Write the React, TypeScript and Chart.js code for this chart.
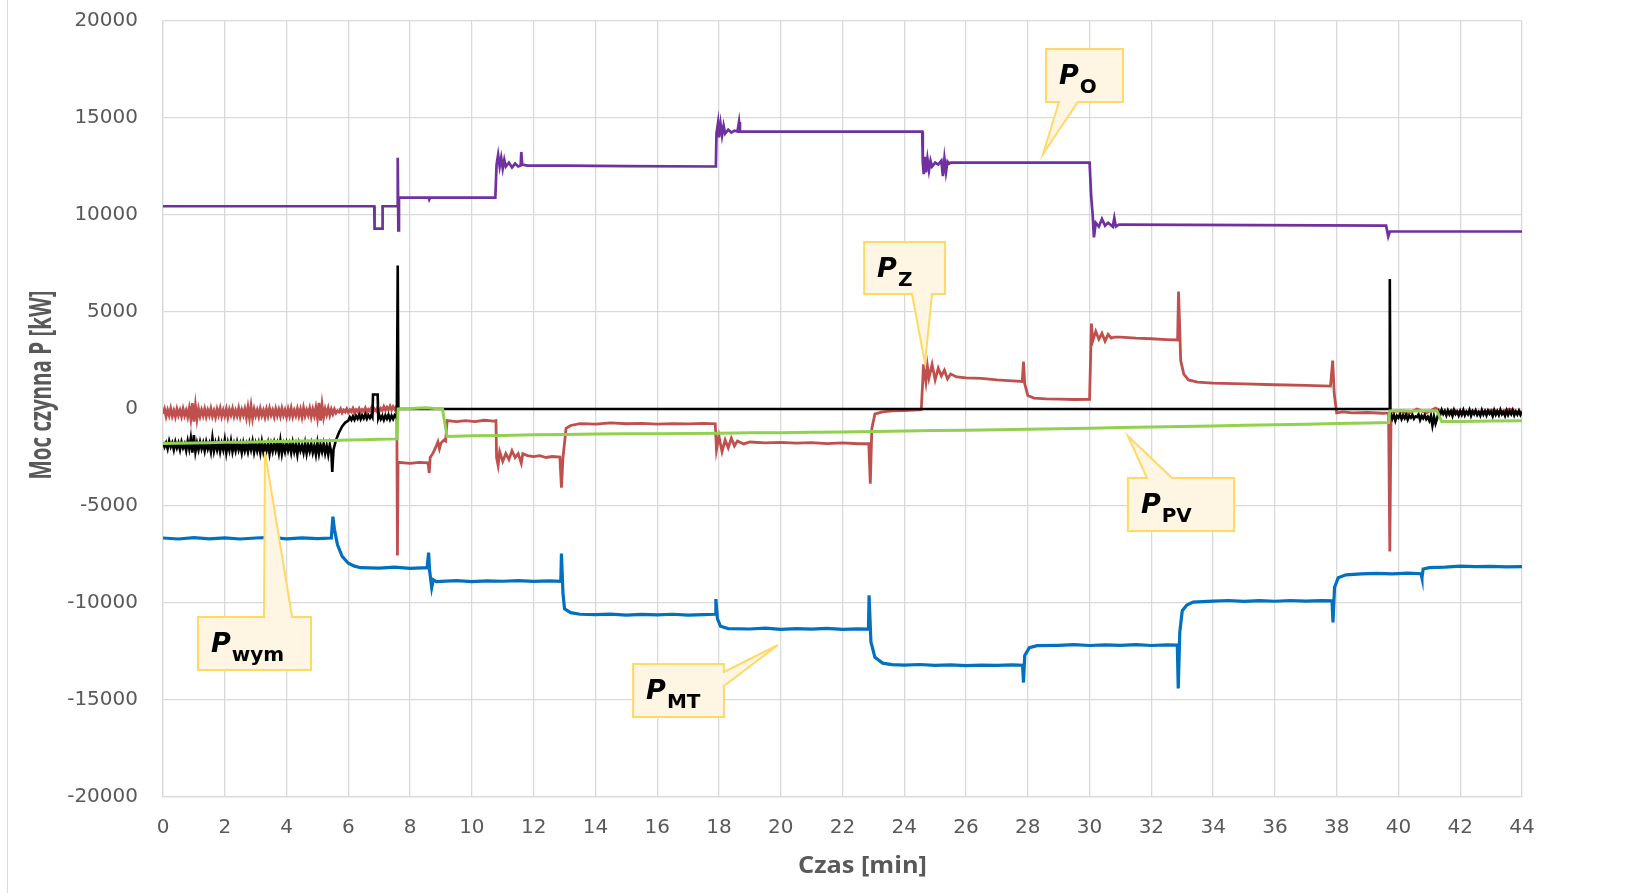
import { useEffect, useRef } from 'react';
import { Chart, registerables } from 'chart.js';

Chart.register(...registerables);

type Pt = [number, number];

// Time axis ticks [min] and power axis ticks [kW]
const timeTicks = [0, 2, 4, 6, 8, 10, 12, 14, 16, 18, 20, 22, 24, 26, 28, 30, 32, 34, 36, 38, 40, 42, 44];
const powerTicks = [-20000, -15000, -10000, -5000, 0, 5000, 10000, 15000, 20000];

// P_O – odbiory (load power) [min, kW]
const pO: Pt[] = [
  [0, 10450], [6.84, 10450], [6.85, 9300], [7.1, 9300], [7.11, 10450], [7.58, 10450], [7.6, 12950], [7.62, 9200],
  [7.64, 10900], [8.6, 10900], [8.62, 10800], [8.65, 10900], [10.76, 10900], [10.8, 12600], [10.85, 13100],
  [10.9, 12500], [10.95, 12950], [11.0, 12400], [11.05, 12850], [11.1, 12500], [11.2, 12700], [11.3, 12450],
  [11.4, 12650], [11.5, 12500], [11.58, 12550], [11.6, 13250], [11.63, 12600], [11.8, 12550], [13, 12550],
  [15, 12520], [17.9, 12500], [17.92, 14200], [17.97, 14750], [18.0, 14000], [18.05, 14700], [18.1, 14100],
  [18.15, 14600], [18.2, 14200], [18.3, 14400], [18.4, 14250], [18.5, 14350], [18.6, 14300], [18.65, 14800],
  [18.68, 14300], [20, 14300], [24.58, 14300], [24.6, 12700], [24.63, 12100], [24.67, 13000], [24.7, 12200],
  [24.75, 12900], [24.8, 12300], [24.85, 12800], [24.9, 12500], [25.0, 12700], [25.1, 12600], [25.2, 12800],
  [25.25, 12000], [25.3, 12900], [25.35, 12200], [25.4, 12750], [25.45, 12650], [25.5, 12700], [30.0, 12700],
  [30.05, 11000], [30.1, 10000], [30.14, 8850], [30.2, 9600], [30.3, 9400], [30.4, 9800], [30.5, 9450],
  [30.6, 9600], [30.75, 9400], [30.8, 9850], [30.85, 9400], [30.95, 9500], [31, 9500], [39.6, 9450],
  [39.67, 8900], [39.72, 9150], [44, 9150],
];

// P_Z – zasobnik energii (storage) [min, kW]
const pZ: Pt[] = [
  [0.0, -250], [0.05, 0], [0.1, -380], [0.15, -60], [0.2, -330], [0.25, 20], [0.3, -360], [0.35, -90],
  [0.4, -400], [0.45, -10], [0.5, -320], [0.55, -70], [0.6, -380], [0.65, 0], [0.7, -340], [0.75, -80],
  [0.8, -410], [0.85, 30], [0.9, -500], [0.95, 300], [1.0, -650], [1.05, 180], [1.1, -520], [1.15, 10],
  [1.2, -370], [1.25, -50], [1.3, -340], [1.35, 0], [1.4, -390], [1.45, -70], [1.5, -330], [1.55, 20],
  [1.6, -370], [1.65, -100], [1.7, -420], [1.75, -20], [1.8, -310], [1.85, 30], [1.9, -380], [1.95, -60],
  [2.0, -350], [2.05, -10], [2.1, -420], [2.15, -40], [2.2, -310], [2.25, 10], [2.3, -370], [2.35, -80],
  [2.4, -340], [2.45, 30], [2.5, -390], [2.55, -50], [2.6, -320], [2.65, 0], [2.7, -430], [2.75, 80],
  [2.8, -460], [2.85, 150], [2.9, -480], [2.95, -20], [3.0, -340], [3.05, -60], [3.1, -380], [3.15, 10],
  [3.2, -330], [3.25, -80], [3.3, -410], [3.35, -20], [3.4, -350], [3.45, 30], [3.5, -310], [3.55, -70],
  [3.6, -390], [3.65, 0], [3.7, -340], [3.75, -40], [3.8, -370], [3.85, 20], [3.9, -320], [3.95, -60],
  [4.0, -400], [4.05, -10], [4.1, -350], [4.15, 40], [4.2, -380], [4.25, -80], [4.3, -330], [4.35, 10],
  [4.4, -360], [4.45, -30], [4.5, -410], [4.55, 50], [4.6, -350], [4.65, -60], [4.7, -310], [4.75, 30],
  [4.8, -390], [4.85, -20], [4.9, -340], [4.95, 70], [5.0, -460], [5.05, 320], [5.1, -600], [5.15, 220],
  [5.2, -420], [5.25, 0], [5.3, -290], [5.35, 40], [5.4, -320], [5.45, -20], [5.5, -260], [5.55, -20],
  [5.6, -210], [5.65, -90], [5.7, -160], [5.75, 0], [5.8, -200], [5.85, -60], [5.9, -150], [5.95, 10],
  [6.0, -180], [6.05, -50], [6.1, -140], [6.15, 30], [6.2, -190], [6.25, -40], [6.3, -130], [6.35, 20],
  [6.4, -170], [6.45, -30], [6.5, -120], [6.55, 50], [6.6, -160], [6.65, -20], [6.7, -110], [6.75, 60],
  [6.8, -140], [6.85, 0], [6.9, -100], [6.95, 80], [7.0, -120], [7.05, 30], [7.1, -80], [7.15, 120],
  [7.2, -60], [7.25, 90], [7.3, -40], [7.35, 150], [7.4, -50], [7.45, 120], [7.5, -20], [7.55, 100],
  [7.57, 0], [7.59, -7550], [7.61, -2750], [8.0, -2800], [8.3, -2750], [8.58, -2780], [8.62, -3300],
  [8.65, -2500], [8.75, -2250], [8.85, -1900], [8.9, -1700], [8.95, -2050], [9.0, -1750], [9.1, -1600],
  [9.15, -1650], [9.2, -600], [9.5, -650], [9.8, -600], [10.1, -650], [10.4, -580], [10.7, -620],
  [10.78, -600], [10.8, -2500], [10.85, -2900], [10.9, -2200], [11.0, -2700], [11.1, -2300], [11.2, -2600],
  [11.3, -2150], [11.4, -2500], [11.5, -2300], [11.6, -2800], [11.65, -2300], [11.8, -2400], [12.0, -2450],
  [12.2, -2400], [12.4, -2500], [12.6, -2450], [12.85, -2480], [12.9, -4050], [12.95, -2500], [13.05, -1000],
  [13.2, -850], [13.5, -750], [14, -780], [14.5, -720], [15, -760], [15.5, -740], [16, -780], [16.5, -750],
  [17, -770], [17.5, -740], [17.88, -760], [17.92, -2100], [18.0, -1400], [18.1, -2200], [18.2, -1600],
  [18.3, -2000], [18.4, -1500], [18.5, -1900], [18.6, -1650], [18.8, -1800], [19.0, -1700], [19.5, -1750],
  [20, -1720], [20.5, -1760], [21, -1730], [21.5, -1780], [22, -1750], [22.5, -1790], [22.85, -1780],
  [22.9, -3850], [22.95, -1000], [23.05, -250], [23.3, -150], [23.6, -100], [24, -80], [24.3, -60],
  [24.55, -40], [24.6, 1500], [24.62, 2300], [24.7, 1400], [24.75, 2200], [24.8, 1600], [24.9, 2300],
  [25.0, 1500], [25.1, 2100], [25.2, 1700], [25.3, 2000], [25.4, 1550], [25.5, 1800], [25.7, 1650],
  [26, 1600], [26.5, 1580], [27, 1500], [27.5, 1450], [27.82, 1420], [27.86, 2450], [27.9, 1300],
  [28.0, 700], [28.2, 560], [28.6, 520], [29, 510], [29.5, 490], [30.0, 500], [30.03, 2500], [30.06, 4400],
  [30.1, 3500], [30.2, 4000], [30.3, 3600], [30.4, 3900], [30.5, 3500], [30.6, 3850], [30.7, 3650],
  [30.8, 3700], [31.0, 3700], [31.5, 3650], [32, 3620], [32.5, 3580], [32.85, 3560], [32.88, 6050],
  [32.95, 2500], [33.05, 1800], [33.2, 1500], [33.5, 1380], [34, 1330], [35, 1300], [36, 1250], [37, 1220],
  [37.8, 1180], [37.87, 2500], [37.92, 800], [38.0, -200], [38.2, -150], [38.5, -200], [39, -180],
  [39.5, -220], [39.68, -200], [39.72, -7350], [39.76, -150], [40.0, -100], [40.3, -250], [40.6, 0],
  [40.9, -200], [41.2, 50], [41.5, -200], [41.8, -50], [42.1, -250], [42.4, -100], [42.7, -200],
  [43.0, -50], [43.3, -150], [43.6, 0], [43.9, -200], [44, -100],
];

// P_PV – instalacja fotowoltaiczna [min, kW]
const pPV: Pt[] = [
  [0, -1780], [0.5, -1760], [1, -1750], [1.5, -1740], [2, -1720], [2.5, -1710], [3, -1700], [3.5, -1680],
  [4, -1670], [4.5, -1650], [5, -1640], [5.5, -1620], [6, -1600], [6.5, -1580], [7, -1560], [7.58, -1540],
  [7.61, 0], [8, 20], [8.5, 60], [8.8, 20], [9.05, 0], [9.1, -500], [9.2, -1420], [9.5, -1400], [10, -1380],
  [11, -1360], [12, -1330], [13, -1310], [14, -1290], [15, -1280], [16, -1270], [17, -1260], [18, -1250],
  [19, -1230], [20, -1220], [21, -1200], [22, -1180], [23, -1160], [24, -1140], [25, -1110], [26, -1090],
  [27, -1070], [28, -1050], [29, -1020], [30, -990], [31, -960], [32, -930], [33, -900], [34, -870],
  [35, -840], [36, -810], [37, -780], [38, -750], [39, -720], [39.68, -700], [39.72, -100], [40, -80],
  [40.5, -100], [41, -80], [41.25, -100], [41.4, -650], [42, -640], [43, -620], [44, -600],
];

// P_wym – wymiana z siecią (grid exchange) [min, kW]
const pWym: Pt[] = [
  [0.0, -1700], [0.05, -1950], [0.1, -1750], [0.15, -2050], [0.2, -1650], [0.25, -1950], [0.3, -1750],
  [0.35, -2100], [0.4, -1700], [0.45, -2000], [0.5, -1750], [0.55, -2100], [0.6, -1700], [0.65, -2000],
  [0.7, -1800], [0.75, -2150], [0.8, -1650], [0.85, -2050], [0.9, -1500], [0.95, -2250], [1.0, -1350],
  [1.05, -2200], [1.1, -1750], [1.15, -2100], [1.2, -1700], [1.25, -2050], [1.3, -1750], [1.35, -2150],
  [1.4, -1700], [1.45, -2050], [1.5, -1780], [1.55, -2200], [1.6, -1500], [1.65, -2150], [1.7, -1750],
  [1.75, -2100], [1.8, -1700], [1.85, -2200], [1.9, -1780], [1.95, -2100], [2.0, -1600], [2.05, -2250],
  [2.1, -1750], [2.15, -2120], [2.2, -1650], [2.25, -2200], [2.3, -1800], [2.35, -2150], [2.4, -1720],
  [2.45, -2100], [2.5, -1800], [2.55, -2250], [2.6, -1760], [2.65, -2150], [2.7, -1820], [2.75, -2200],
  [2.8, -1750], [2.85, -2100], [2.9, -1680], [2.95, -2220], [3.0, -1800], [3.05, -2160], [3.1, -1780],
  [3.15, -2250], [3.2, -1700], [3.25, -2200], [3.3, -1850], [3.35, -2150], [3.4, -1770], [3.45, -2300],
  [3.5, -1820], [3.55, -2180], [3.6, -1750], [3.65, -2130], [3.7, -1800], [3.75, -2250], [3.8, -1650],
  [3.85, -2300], [3.9, -1850], [3.95, -2200], [4.0, -1780], [4.05, -2150], [4.1, -1820], [4.15, -2250],
  [4.2, -1750], [4.25, -2200], [4.3, -1850], [4.35, -2350], [4.4, -1800], [4.45, -2150], [4.5, -1880],
  [4.55, -2250], [4.6, -1770], [4.65, -2300], [4.7, -1850], [4.75, -2180], [4.8, -1800], [4.85, -2250],
  [4.9, -1900], [4.95, -2350], [5.0, -1750], [5.05, -2300], [5.1, -1850], [5.15, -2200], [5.2, -1800],
  [5.25, -2280], [5.3, -1900], [5.35, -2350], [5.4, -1850], [5.45, -2250], [5.48, -3250], [5.52, -2100],
  [5.6, -1600], [5.7, -1200], [5.8, -900], [5.9, -700], [6.0, -600], [6.05, -420], [6.1, -560],
  [6.15, -380], [6.2, -550], [6.25, -350], [6.3, -500], [6.35, -300], [6.4, -520], [6.45, -330],
  [6.5, -480], [6.55, -280], [6.6, -500], [6.65, -320], [6.7, -460], [6.75, -300], [6.78, -400],
  [6.8, 750], [6.95, 750], [6.97, -450], [7.0, -300], [7.05, -520], [7.1, -350], [7.15, -560], [7.2, -330],
  [7.25, -500], [7.3, -300], [7.35, -540], [7.4, -350], [7.45, -520], [7.5, -320], [7.57, -450],
  [7.6, 7400], [7.62, 0], [39.7, 0], [39.72, 6700], [39.74, -300], [39.75, -250], [39.8, -500],
  [39.85, -300], [39.9, -600], [39.95, -350], [40.0, -450], [40.05, -280], [40.1, -520], [40.15, -330],
  [40.2, -480], [40.25, -300], [40.3, -550], [40.35, -350], [40.4, -450], [40.45, -300], [40.5, -500],
  [40.55, -380], [40.6, -420], [40.65, -280], [40.7, -560], [40.75, -350], [40.8, -480], [40.85, -320],
  [40.9, -520], [40.95, -400], [41.0, -600], [41.05, -350], [41.1, -850], [41.15, -400], [41.2, -750],
  [41.25, -500], [41.3, -150], [41.35, -300], [41.4, -50], [41.45, -250], [41.5, -100], [41.55, -320],
  [41.6, -80], [41.65, -280], [41.7, -120], [41.75, -350], [41.8, -60], [41.85, -260], [41.9, -140],
  [41.95, -330], [42.0, -100], [42.05, -290], [42.1, -60], [42.15, -310], [42.2, -130], [42.25, -270],
  [42.3, -50], [42.35, -340], [42.4, -120], [42.45, -260], [42.5, -80], [42.55, -300], [42.6, -150],
  [42.65, -330], [42.7, -60], [42.75, -280], [42.8, -110], [42.85, -320], [42.9, -90], [42.95, -250],
  [43.0, -140], [43.05, -360], [43.1, -70], [43.15, -290], [43.2, -120], [43.25, -310], [43.3, -50],
  [43.35, -270], [43.4, -150], [43.45, -340], [43.5, -80], [43.55, -300], [43.6, -110], [43.65, -260],
  [43.7, -60], [43.75, -320], [43.8, -130], [43.85, -280], [43.9, -90], [43.95, -300], [44.0, -150],
];

// P_MT – mikroturbina [min, kW]
const pMT: Pt[] = [
  [0, -6650], [0.5, -6700], [1, -6630], [1.5, -6690], [2, -6640], [2.5, -6700], [3, -6650], [3.5, -6620],
  [4, -6690], [4.5, -6640], [5, -6680], [5.45, -6650], [5.5, -5550], [5.55, -6200], [5.65, -7000],
  [5.8, -7600], [6.0, -7950], [6.2, -8100], [6.4, -8180], [7, -8200], [7.5, -8150], [8, -8220],
  [8.55, -8180], [8.6, -7400], [8.63, -8300], [8.7, -9200], [8.75, -8800], [8.85, -8900], [9.5, -8850],
  [10, -8900], [10.5, -8860], [11, -8880], [11.5, -8850], [12, -8890], [12.5, -8860], [12.88, -8880],
  [12.9, -7450], [12.95, -9500], [13.0, -10300], [13.2, -10500], [13.5, -10580], [14, -10600],
  [14.5, -10570], [15, -10620], [15.5, -10590], [16, -10610], [16.5, -10580], [17, -10620], [17.5, -10600],
  [17.88, -10580], [17.9, -9800], [17.95, -10800], [18.05, -11200], [18.3, -11320], [19, -11340],
  [19.5, -11300], [20, -11360], [20.5, -11320], [21, -11350], [21.5, -11310], [22, -11360], [22.5, -11330],
  [22.84, -11340], [22.86, -9600], [22.92, -12000], [23.05, -12800], [23.3, -13100], [23.6, -13180],
  [24, -13200], [24.5, -13170], [25, -13220], [25.5, -13190], [26, -13230], [26.5, -13200], [27, -13220],
  [27.5, -13190], [27.83, -13210], [27.86, -14100], [27.9, -12700], [28.05, -12300], [28.3, -12200],
  [29, -12180], [29.5, -12150], [30, -12190], [30.5, -12160], [31, -12180], [31.5, -12150], [32, -12190],
  [32.5, -12160], [32.84, -12170], [32.87, -14400], [32.92, -11500], [33.0, -10400], [33.15, -10100],
  [33.35, -9950], [34, -9900], [34.5, -9870], [35, -9920], [35.5, -9880], [36, -9910], [36.5, -9870],
  [37, -9900], [37.5, -9880], [37.85, -9890], [37.88, -11000], [37.93, -9200], [38.05, -8700],
  [38.3, -8550], [38.8, -8500], [39.3, -8470], [39.8, -8500], [40.3, -8460], [40.73, -8490],
  [40.76, -8700], [40.8, -8250], [41.0, -8180], [41.5, -8150], [42, -8100], [42.5, -8130], [43, -8110],
  [43.5, -8140], [44, -8120],
];

// Callout labels: box corners, pointer base on one edge and pointer tip, in axis units
type Callout = {
  sub: string;
  box: [number, number, number, number];
  edge: 'top' | 'bottom' | 'right';
  base: [number, number];
  tip: [number, number];
};

const callouts: Callout[] = [
  { sub: 'O', box: [28.59, 18557, 31.08, 15825], edge: 'bottom', base: [29.01, 29.62], tip: [28.49, 13144] },
  { sub: 'Z', box: [22.7, 8608, 25.32, 5928], edge: 'bottom', base: [24.25, 24.9], tip: [24.67, 2371] },
  { sub: 'PV', box: [31.24, -3557, 34.68, -6289], edge: 'top', base: [31.86, 32.67], tip: [31.24, -1392] },
  { sub: 'wym', box: [1.133, -10722, 4.792, -13454], edge: 'top', base: [3.27, 4.18], tip: [3.3, -2216] },
  { sub: 'MT', box: [15.22, -13144, 18.16, -15876], edge: 'right', base: [-13557, -14278], tip: [19.91, -12165] },
];

const toXY = (pts: Pt[]) => pts.map(([x, y]) => ({ x, y }));

const GRID = '#d9d9d9';
const TEXT = '#595959';

const overlayPlugin = {
  id: 'overlay',
  afterDatasetsDraw(chart: any) {
    const { ctx, scales } = chart;
    const xs = scales.x;
    const ys = scales.y;
    const px = (v: number) => xs.getPixelForValue(v);
    const py = (v: number) => ys.getPixelForValue(v);

    callouts.forEach((c) => {
      const x0 = px(c.box[0]);
      const y0 = py(c.box[1]);
      const x1 = px(c.box[2]);
      const y1 = py(c.box[3]);
      const tx = px(c.tip[0]);
      const ty = py(c.tip[1]);
      let pts: number[][];
      if (c.edge === 'top') {
        const a = px(c.base[0]);
        const b = px(c.base[1]);
        pts = [[x0, y0], [a, y0], [tx, ty], [b, y0], [x1, y0], [x1, y1], [x0, y1]];
      } else if (c.edge === 'bottom') {
        const a = px(c.base[0]);
        const b = px(c.base[1]);
        pts = [[x0, y0], [x1, y0], [x1, y1], [b, y1], [tx, ty], [a, y1], [x0, y1]];
      } else {
        const a = py(c.base[0]);
        const b = py(c.base[1]);
        pts = [[x0, y0], [x1, y0], [x1, a], [tx, ty], [x1, b], [x1, y1], [x0, y1]];
      }
      ctx.save();
      ctx.beginPath();
      pts.forEach(([x, y], i) => (i === 0 ? ctx.moveTo(x, y) : ctx.lineTo(x, y)));
      ctx.closePath();
      ctx.fillStyle = '#fff5e3';
      ctx.fill();
      ctx.lineWidth = 2;
      ctx.strokeStyle = '#ffd966';
      ctx.lineJoin = 'miter';
      ctx.stroke();

      ctx.fillStyle = '#000';
      ctx.textBaseline = 'alphabetic';
      ctx.textAlign = 'left';
      ctx.font = 'italic bold 27px "DejaVu Sans"';
      const tx0 = x0 + 13;
      ctx.fillText('P', tx0, y0 + 35);
      const w = ctx.measureText('P').width;
      ctx.font = 'bold 20px "DejaVu Sans"';
      ctx.fillText(c.sub, tx0 + w + 1, y0 + 44);
      ctx.restore();
    });
  },
  afterDraw(chart: any) {
    const { ctx, chartArea } = chart;
    ctx.save();
    // chart frame line on the left
    ctx.strokeStyle = GRID;
    ctx.lineWidth = 1;
    ctx.beginPath();
    ctx.moveTo(7.5, 0);
    ctx.lineTo(7.5, chart.height);
    ctx.stroke();

    ctx.fillStyle = TEXT;
    ctx.textAlign = 'center';
    ctx.textBaseline = 'middle';

    // y axis title
    const yTitle = 'Moc czynna P [kW]';
    ctx.font = 'bold 23px "Open Sans"';
    const wy = ctx.measureText(yTitle).width;
    ctx.save();
    ctx.translate(42, (chartArea.top + chartArea.bottom) / 2 - 24);
    ctx.rotate(-Math.PI / 2);
    ctx.scale(189 / wy, 1.3);
    ctx.fillText(yTitle, 0, 0);
    ctx.restore();

    // x axis title
    const xTitle = 'Czas [min]';
    ctx.font = 'bold 23px "Open Sans"';
    const wx = ctx.measureText(xTitle).width;
    ctx.save();
    ctx.translate((chartArea.left + chartArea.right) / 2 + 20, chartArea.bottom + 69);
    ctx.scale(129 / wx, 1);
    ctx.fillText(xTitle, 0, 0);
    ctx.restore();
    ctx.restore();
  },
};

export default function App() {
  const ref = useRef<HTMLCanvasElement | null>(null);

  useEffect(() => {
    if (!ref.current) return;
    const line = (label: string, data: Pt[], color: string, width: number) => ({
      label,
      data: toXY(data),
      borderColor: color,
      backgroundColor: color,
      borderWidth: width,
      pointRadius: 0,
      tension: 0,
      fill: false,
    });
    const chart = new Chart(ref.current, {
      type: 'line',
      data: {
        // first dataset is drawn on top
        datasets: [
          line('P_PV', pPV, '#92d050', 3),
          line('P_wym', pWym, '#000000', 2.6),
          line('P_Z', pZ, '#c0504d', 2.8),
          line('P_O', pO, '#7030a0', 2.7),
          line('P_MT', pMT, '#0070c0', 3.2),
        ],
      },
      options: {
        responsive: false,
        animation: false,
        events: [],
        layout: { autoPadding: false, padding: { top: 21, right: 107, left: 0, bottom: 0 } },
        plugins: { legend: { display: false }, tooltip: { enabled: false }, title: { display: false } },
        scales: {
          x: {
            type: 'linear',
            min: 0,
            max: 44,
            afterBuildTicks: (s: any) => {
              s.ticks = timeTicks.map((value) => ({ value }));
            },
            afterFit: (s: any) => {
              s.height = 96;
              s.paddingLeft = 0;
              s.paddingRight = 0;
              s.paddingTop = 0;
              s.paddingBottom = 0;
            },
            grid: { color: GRID, lineWidth: 1.3, drawTicks: false },
            border: { color: GRID, width: 1.3 },
            ticks: {
              color: TEXT,
              font: { family: '"DejaVu Sans"', size: 20 },
              padding: 19,
              maxRotation: 0,
              autoSkip: false,
              callback: (v: any) => String(v),
            },
          },
          y: {
            type: 'linear',
            min: -20000,
            max: 20000,
            afterBuildTicks: (s: any) => {
              s.ticks = powerTicks.map((value) => ({ value }));
            },
            afterFit: (s: any) => {
              s.width = 163;
              s.paddingLeft = 0;
              s.paddingRight = 0;
              s.paddingTop = 0;
              s.paddingBottom = 0;
            },
            grid: { color: GRID, lineWidth: 1.3, drawTicks: false },
            border: { color: GRID, width: 1.3 },
            ticks: {
              color: TEXT,
              font: { family: '"DejaVu Sans"', size: 20 },
              padding: 25,
              autoSkip: false,
              callback: (v: any) => String(v),
            },
          },
        },
      },
      plugins: [overlayPlugin],
    });
    return () => chart.destroy();
  }, []);

  return (
    <div style={{ position: 'absolute', left: 0, top: 0, width: 1629, height: 893, background: '#fff' }}>
      <canvas ref={ref} width={1629} height={893} style={{ display: 'block', width: 1629, height: 893 }} />
    </div>
  );
}
